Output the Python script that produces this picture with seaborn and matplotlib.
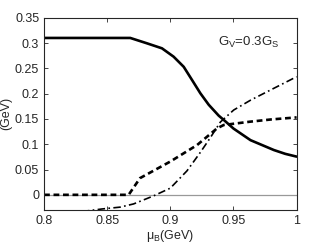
import numpy as np
import matplotlib
matplotlib.use("Agg")
import matplotlib.pyplot as plt
import pandas as pd
import seaborn as sns

# curves (mu_B in GeV, values in GeV)
mu_solid = [0.80, 0.8683, 0.8815, 0.8934, 0.9026, 0.9106, 0.9172, 0.9238, 0.9304, 0.9383,
            0.9437, 0.950, 0.9635, 0.982, 0.991, 1.0]
val_solid = [0.31, 0.31, 0.2994, 0.2895, 0.273, 0.253, 0.2269, 0.2006, 0.178, 0.1565,
             0.145, 0.131, 0.108, 0.0885, 0.081, 0.0755]

mu_dash = [0.80, 0.867, 0.876, 0.900, 0.9212, 0.937, 0.9423, 0.963, 0.98, 1.0]
val_dash = [0.0, 0.0, 0.033, 0.0658, 0.0984, 0.1314, 0.138, 0.1445, 0.149, 0.153]

mu_dashdot = [0.83, 0.8458, 0.8603, 0.8709, 0.8868, 0.90, 0.9132, 0.9238, 0.9317, 0.9397,
              0.9502, 0.9635, 0.9767, 1.0]
val_dashdot = [-0.033, -0.028, -0.0243, -0.018, -0.002, 0.0132, 0.0474, 0.084, 0.113, 0.144,
               0.1676, 0.187, 0.2038, 0.2334]

xticks = [0.8, 0.85, 0.9, 0.95, 1.0]
xtick_labels = ["0.8", "0.85", "0.9", "0.95", "1"]
yticks = [0, 0.05, 0.1, 0.15, 0.2, 0.25, 0.3, 0.35]
ytick_labels = ["0", "0.05", "0.1", "0.15", "0.2", "0.25", "0.3", "0.35"]

sns.set_style("ticks")
plt.rcParams["font.family"] = ["Liberation Sans", "DejaVu Sans"]
plt.rcParams["mathtext.fontset"] = "custom"
plt.rcParams["mathtext.rm"] = "Liberation Sans"

fig = plt.figure(figsize=(3.27, 2.46), dpi=100)
ax = fig.add_axes([0.1346, 0.1463, 0.7725, 0.7817])

ax.axhline(0, color="#999999", lw=0.9, zorder=1)

solid = pd.DataFrame({"mu": mu_solid, "v": val_solid})
dash = pd.DataFrame({"mu": mu_dash, "v": val_dash})
dashdot = pd.DataFrame({"mu": mu_dashdot, "v": val_dashdot})

sns.lineplot(data=solid, x="mu", y="v", ax=ax, color="black", lw=1.9, sort=False, estimator=None)
sns.lineplot(data=dash, x="mu", y="v", ax=ax, color="black", lw=1.9, sort=False, estimator=None,
             linestyle=(0, (2.2, 1.4)))
sns.lineplot(data=dashdot, x="mu", y="v", ax=ax, color="black", lw=1.2, sort=False, estimator=None,
             linestyle=(0, (4.5, 2, 1, 2)))

ax.text(0.938, 0.302, r"G$_\mathregular{V}$=0.3G$_\mathregular{S}$", fontsize=9.5, va="center", ha="left")

ax.set_xlim(0.8, 1.0)
ax.set_ylim(-0.03, 0.35)
ax.set_xticks(xticks)
ax.set_xticklabels(xtick_labels)
ax.set_yticks(yticks)
ax.set_yticklabels(ytick_labels)
ax.tick_params(direction="in", top=True, right=True, labelsize=9, length=3, width=0.6)
for s in ax.spines.values():
    s.set_linewidth(0.8)
    s.set_visible(True)

ax.set_xlabel(r"$\mathregular{\mu_B}$(GeV)", fontsize=9, labelpad=1)
ax.set_ylabel("(GeV)", fontsize=9, labelpad=2)

fig.savefig("out.png", dpi=100)
